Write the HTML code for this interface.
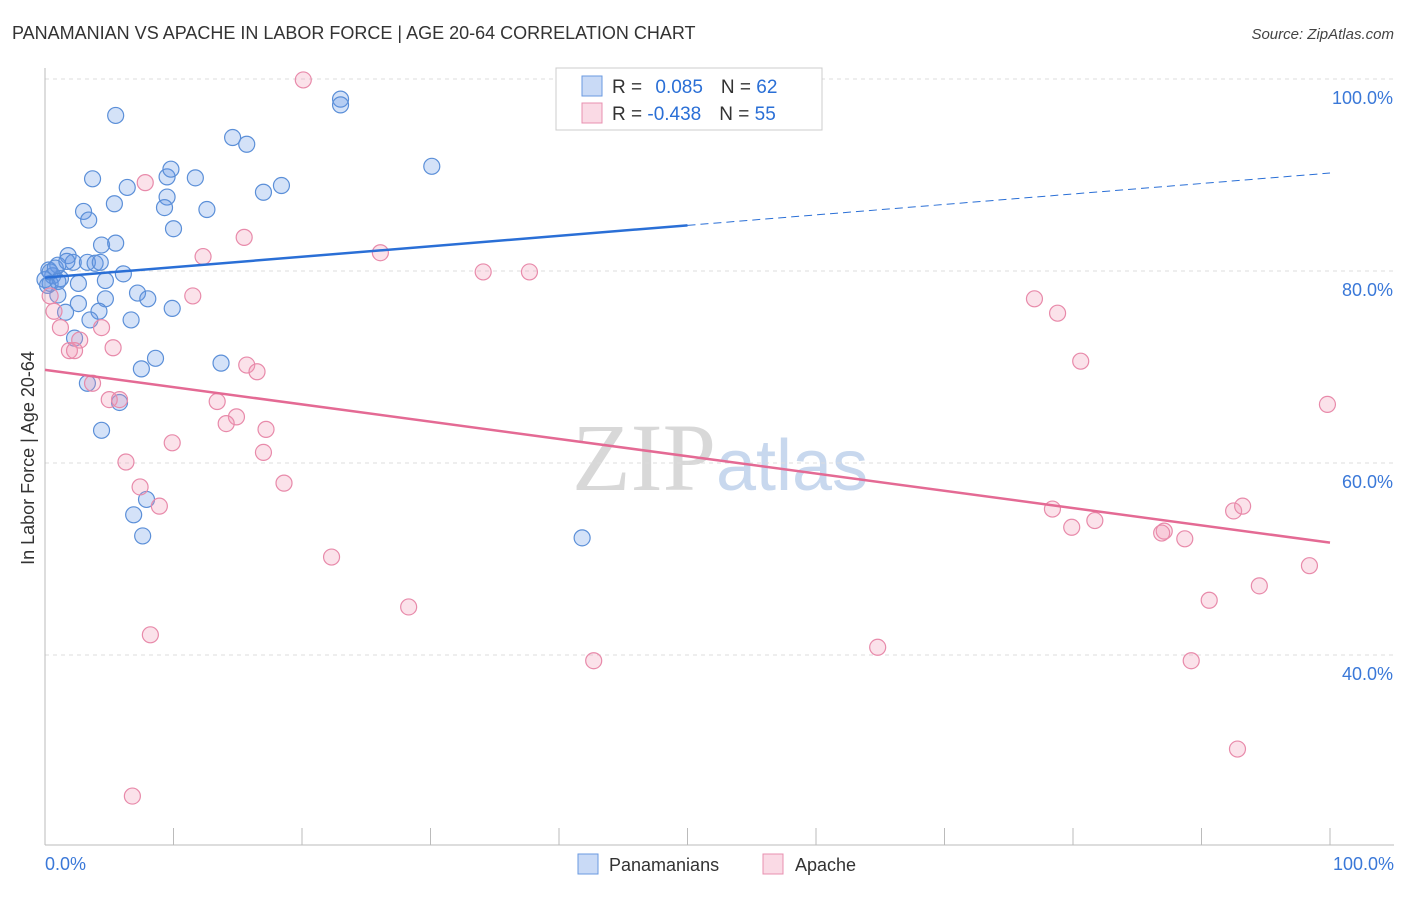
<!DOCTYPE html>
<html><head><meta charset="utf-8"><style>
body{margin:0;background:#fff;font-family:"Liberation Sans",sans-serif}
</style></head><body>
<svg id="chart" width="1406" height="892" xmlns="http://www.w3.org/2000/svg" font-family="Liberation Sans, sans-serif">
<text x="12" y="39" font-size="18" fill="#333">PANAMANIAN VS APACHE IN LABOR FORCE | AGE 20-64 CORRELATION CHART</text>
<text x="1394" y="39" font-size="15" fill="#444" text-anchor="end" font-style="italic">Source: ZipAtlas.com</text>
<text x="720" y="490" font-size="96" fill="#d8d8d8" text-anchor="middle" font-family="Liberation Serif, serif">ZIP<tspan fill="#c8d8ee" font-family="Liberation Sans, sans-serif" font-size="72">atlas</tspan></text>
<g id="grid"></g><g id="axes"></g><g id="pts"></g><g id="trend"></g>
<text transform="translate(34,458) rotate(-90)" font-size="18" fill="#333" text-anchor="middle">In Labor Force | Age 20-64</text>
<g>
<rect x="556" y="68" width="266" height="62" fill="#fff" stroke="#ccc"/>
<rect x="582" y="76" width="20" height="20" fill="rgba(100,150,230,0.35)" stroke="#6a9ae0"/>
<text x="612" y="93" font-size="19" fill="#333">R = <tspan fill="#2a6fd6" dx="8">0.085</tspan><tspan dx="18" fill="#333">N = </tspan><tspan fill="#2a6fd6">62</tspan></text>
<rect x="582" y="103" width="20" height="20" fill="rgba(240,150,180,0.35)" stroke="#e890b0"/>
<text x="612" y="120" font-size="19" fill="#333">R = <tspan fill="#2a6fd6">-0.438</tspan><tspan dx="18" fill="#333">N = </tspan><tspan fill="#2a6fd6">55</tspan></text>
</g>
<g>
<rect x="578" y="854" width="20" height="20" fill="rgba(100,150,230,0.35)" stroke="#6a9ae0"/>
<text x="609" y="871" font-size="18" fill="#333">Panamanians</text>
<rect x="763" y="854" width="20" height="20" fill="rgba(240,150,180,0.35)" stroke="#e890b0"/>
<text x="795" y="871" font-size="18" fill="#333">Apache</text>
</g>
</svg>
<script>
const blueX=[5.5,23.0,23.0,14.6,15.7,30.1,3.7,9.5,6.4,9.8,11.7,9.5,18.4,17.0,3.0,3.4,5.4,9.3,12.6,10.0,4.4,5.5,1.8,2.2,3.3,3.9,1.0,0.3,0.6,0.4,1.2,2.6,4.7,6.1,7.2,8.0,4.7,1.0,2.6,4.2,1.6,6.7,9.9,3.5,2.3,8.6,13.7,7.5,3.3,5.8,4.4,7.9,6.9,7.6,41.8,0,0.4,0.8,1.7,4.3,0.2,1.0];
const blueY=[96.1,97.8,97.2,93.8,93.1,90.8,89.5,89.7,88.6,90.5,89.6,87.6,88.8,88.1,86.1,85.2,86.9,86.5,86.3,84.3,82.6,82.8,81.5,80.8,80.8,80.7,80.5,80.0,79.4,78.6,79.1,78.6,78.9,79.6,77.6,77.0,77.0,77.4,76.5,75.7,75.6,74.8,76.0,74.8,72.9,70.8,70.3,69.7,68.2,66.2,63.3,56.1,54.5,52.3,52.1,79.0,79.8,80.2,80.9,80.8,78.4,78.8];
const pinkX=[20.1,7.8,15.5,12.3,26.1,34.1,37.7,77.0,78.8,11.5,0.7,1.2,4.4,2.7,5.3,1.9,2.3,80.6,15.7,16.5,3.7,5.0,5.8,13.4,14.9,14.1,17.2,9.9,17.0,6.3,7.4,18.6,8.9,99.8,78.4,79.9,81.7,87.1,86.9,88.7,92.5,93.2,98.4,22.3,94.5,90.6,28.3,8.2,64.8,42.7,89.2,92.8,6.8,0.4];
const pinkY=[99.8,89.1,83.4,81.4,81.8,79.8,79.8,77.0,75.5,77.3,75.7,74.0,74.0,72.7,71.9,71.6,71.6,70.5,70.1,69.4,68.2,66.5,66.5,66.3,64.7,64.0,63.4,62.0,61.0,60.0,57.4,57.8,55.4,66.0,55.1,53.2,53.9,52.8,52.6,52.0,54.9,55.4,49.2,50.1,47.1,45.6,44.9,42.0,40.7,39.3,39.3,30.1,25.2,77.3];
const yTicks=[100,80,60,40];
const yTickLabels=["100.0%","80.0%","60.0%","40.0%"];
const xTicks=[0,10,20,30,40,50,60,70,80,90,100];
const blueTrend=[79.2,90.1];
const pinkTrend=[69.6,51.6];
const X=v=>45+v*12.85, Y=v=>78+(100-v)*9.6;
const NS="http://www.w3.org/2000/svg";
function mk(p,t,a){const e=document.createElementNS(NS,t);for(const k in a)e.setAttribute(k,a[k]);document.getElementById(p).appendChild(e);return e;}
yTicks.forEach((t,i)=>{
 const l=mk('grid','line',{x1:45,x2:1394,y1:Y(t)+1,y2:Y(t)+1,stroke:'#ddd','stroke-dasharray':'4,4'});
 
 
 const tx=mk('grid','text',{x:1393,y:Y(t)+26,'font-size':18,fill:'#3a78d8','text-anchor':'end'});
 tx.textContent=yTickLabels[i];
 
 
});
const ax=mk('axes','line',{x1:45,x2:1394,y1:845,y2:845,stroke:'#bbb'});


const ay=mk('axes','line',{x1:45,x2:45,y1:68,y2:845,stroke:'#bbb'});


xTicks.forEach(t=>{const l=mk('axes','line',{x1:X(t),x2:X(t),y1:828,y2:845,stroke:'#bbb'});
 
 });
const x0=mk('axes','text',{x:45,y:870,'font-size':18,fill:'#3a78d8'});x0.textContent='0.0%';


const x1=mk('axes','text',{x:1394,y:870,'font-size':18,fill:'#3a78d8','text-anchor':'end'});x1.textContent='100.0%';


blueX.forEach((v,i)=>{const c=mk('pts','circle',{cx:X(v),cy:Y(blueY[i]),r:8,fill:'rgba(100,150,230,0.28)',stroke:'#5b8fd8','stroke-width':1.2});
 
 });
pinkX.forEach((v,i)=>{const c=mk('pts','circle',{cx:X(v),cy:Y(pinkY[i]),r:8,fill:'rgba(240,150,180,0.28)',stroke:'#e88aaa','stroke-width':1.2});
 
 });
const bm=blueTrend[0]+(blueTrend[1]-blueTrend[0])*0.5;
const b1=mk('trend','line',{x1:X(0),y1:Y(blueTrend[0]),x2:X(50),y2:Y(bm),stroke:'#2a6fd6','stroke-width':2.5});


const b2=mk('trend','line',{x1:X(50),y1:Y(bm),x2:X(100),y2:Y(blueTrend[1]),stroke:'#2a6fd6','stroke-width':1,'stroke-dasharray':'8,5'});


const p1=mk('trend','line',{x1:X(0),y1:Y(pinkTrend[0]),x2:X(100),y2:Y(pinkTrend[1]),stroke:'#e46a94','stroke-width':2.5});


</script>
</body></html>
